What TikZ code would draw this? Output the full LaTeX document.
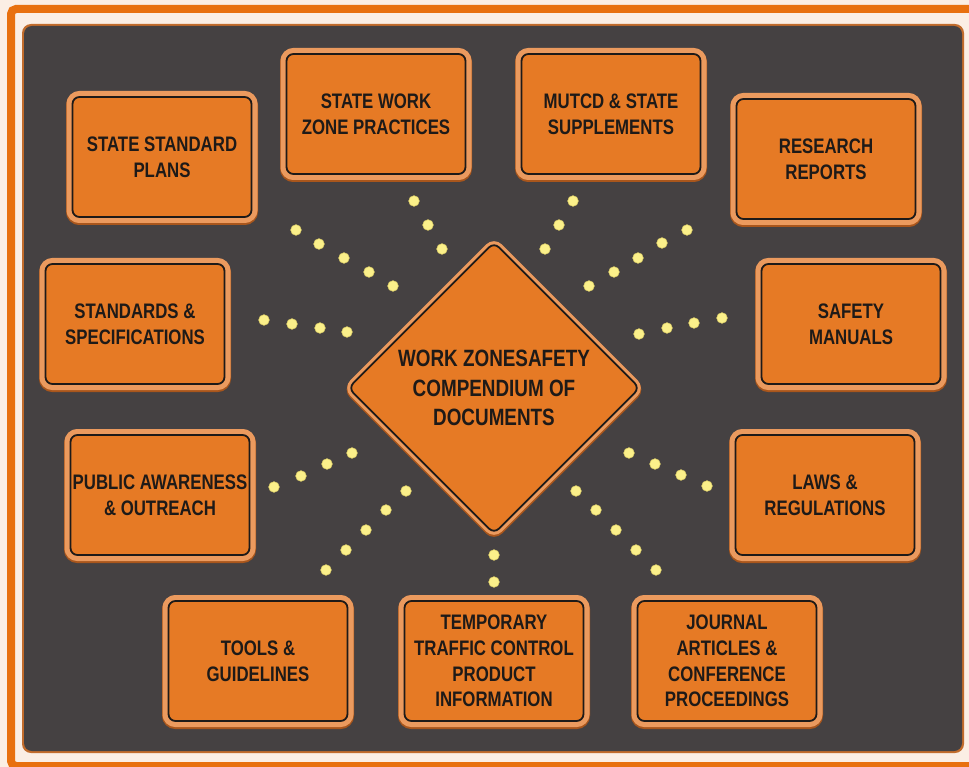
\documentclass[tikz,border=0pt]{standalone}
\usepackage{fontspec}
\newfontfamily\signfont{Liberation Sans}[FakeStretch=0.8, BoldFeatures={FakeStretch=0.8}]
\usetikzlibrary{shapes.geometric}

\definecolor{frameorange}{HTML}{E8700F}
\definecolor{cream}{HTML}{FBEEE4}
\definecolor{panelgrey}{HTML}{454142}
\definecolor{panelrim}{HTML}{C26C2C}
\definecolor{signorange}{HTML}{E67A25}
\definecolor{signrim}{HTML}{EB9A5E}
\definecolor{signshadow}{HTML}{A9561C}
\definecolor{signink}{HTML}{1E1A18}
\definecolor{lamp}{HTML}{FBF08A}
\definecolor{lampedge}{HTML}{E2D36A}

\tikzset{
  x=1pt, y=-1pt,
  signbox/.style={
    rectangle, rounded corners=7pt,
    minimum width=179pt, minimum height=120pt, inner sep=0pt,
    fill=signorange, draw=signink, line width=1.8pt,
    preaction={draw=signshadow, line width=13pt, transform canvas={yshift=-1.5pt}},
    preaction={draw=signrim, line width=12pt},
    text=signink, align=center,
    font=\signfont\bfseries\fontsize{21}{25.7}\selectfont
  },
  hubsign/.style={
    diamond, aspect=1, rounded corners=7pt,
    minimum width=292pt, minimum height=292pt, inner sep=0pt,
    fill=signorange, draw=signink, line width=1.8pt,
    preaction={draw=signshadow, line width=9pt, transform canvas={yshift=-1.5pt}},
    preaction={draw=signrim, line width=8pt},
    text=signink, align=center,
    font=\signfont\bfseries\fontsize{23.6}{29.5}\selectfont
  },
  lampdot/.style={fill=lamp, draw=lampedge, line width=0.6pt}
}

\begin{document}
\begin{tikzpicture}
  \useasboundingbox (0,0) rectangle (969,767);

  % page frame and dark panel
  \fill[cream] (0,0) rectangle (969,767);
  \draw[frameorange, line width=8pt, rounded corners=5pt] (11,9) rectangle (975,766);
  \fill[panelrim, rounded corners=9pt] (22,24) rectangle (964,753);
  \fill[panelgrey, rounded corners=8pt] (24,26) rectangle (962,751);

  % central sign
  \node[hubsign] (hub) at (494,388) {WORK ZONESAFETY\\COMPENDIUM OF\\DOCUMENTS};

  % surrounding signs
  \node[signbox] (plans)    at (162,157) {STATE STANDARD\\PLANS};
  \node[signbox] (practice) at (376,114) {STATE WORK\\ZONE PRACTICES};
  \node[signbox] (mutcd)    at (611,114) {MUTCD \& STATE\\SUPPLEMENTS};
  \node[signbox] (research) at (826,159) {RESEARCH\\REPORTS};
  \node[signbox] (specs)    at (135,324) {STANDARDS \&\\SPECIFICATIONS};
  \node[signbox] (manuals)  at (851,324) {SAFETY\\MANUALS};
  \node[signbox] (outreach) at (160,495) {PUBLIC AWARENESS\\\& OUTREACH};
  \node[signbox] (laws)     at (825,495) {LAWS \&\\REGULATIONS};
  \node[signbox] (tools)    at (258,661) {TOOLS \&\\GUIDELINES};
  \node[signbox] (ttc)      at (494,661) {TEMPORARY\\TRAFFIC CONTROL\\PRODUCT\\INFORMATION};
  \node[signbox] (journal)  at (727,661) {JOURNAL\\ARTICLES \&\\CONFERENCE\\PROCEEDINGS};

  % rows of lamps radiating from the central sign
  \foreach \p in {
      (296,230),(319,244),(344,258),(369,272),(393,286),
      (414,201),(428,225),(442,249),
      (264,320),(292,324),(320,328),(347,332),
      (573,201),(559,225),(545,249),
      (687,230),(662,243),(638,258),(614,272),(589,286),
      (722,318),(694,323),(667,328),(639,334),
      (274,487),(301,476),(327,464),(352,453),
      (406,491),(386,510),(366,530),(346,550),(326,570),
      (494,555),(494,582),
      (629,453),(655,464),(681,475),(707,486),
      (576,491),(596,510),(616,530),(636,550),(656,570)}
    \draw[lampdot] \p circle (5.3pt);
\end{tikzpicture}
\end{document}
